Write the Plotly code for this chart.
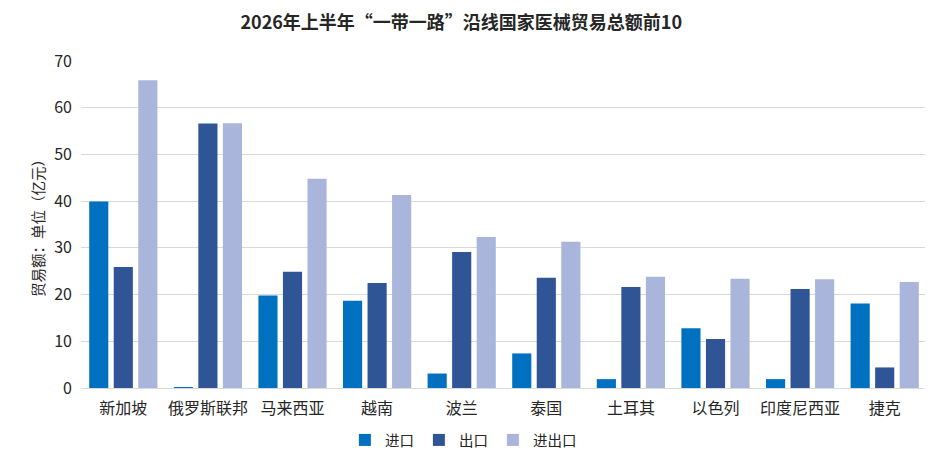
import plotly.graph_objects as go

countries = ["新加坡", "俄罗斯联邦", "马来西亚", "越南", "波兰", "泰国", "土耳其", "以色列", "印度尼西亚", "捷克"]
imports = [39.9, 0.1, 19.8, 18.7, 3.1, 7.4, 1.9, 12.8, 1.9, 18.1]
exports = [25.9, 56.6, 24.9, 22.5, 29.1, 23.6, 21.6, 10.5, 21.2, 4.4]
totals = [65.9, 56.7, 44.8, 41.3, 32.3, 31.3, 23.8, 23.4, 23.3, 22.7]
series_names = ["进口", "出口", "进出口"]
colors = ["#0070C0", "#2F5597", "#A9B5DA"]
y_ticks = [0, 10, 20, 30, 40, 50, 60, 70]

FONT = "Noto Sans CJK SC"
TXT = "#262626"

fig = go.Figure()
for name, vals, col in zip(series_names, [imports, exports, totals], colors):
    fig.add_trace(go.Bar(name=name, x=countries, y=vals, marker=dict(color=col, line=dict(width=0))))

fig.update_layout(
    width=925, height=464,
    barmode="group", bargap=0.13, bargroupgap=0.22,
    paper_bgcolor="white", plot_bgcolor="white",
    margin=dict(l=73, r=6, t=53, b=84, autoexpand=False),
    font=dict(family=FONT, size=15, color=TXT),
    title=dict(text="<b>2026年上半年“一带一路”沿线国家医械贸易总额前10</b>",
               x=0.49, xanchor="center", y=0.968, yanchor="middle",
               font=dict(family=FONT, size=18, color=TXT)),
    legend=dict(orientation="h", x=0.452, xanchor="center", y=-0.159, yanchor="middle",
                font=dict(family=FONT, size=14.5, color=TXT),
                itemsizing="constant", traceorder="normal"),
    xaxis=dict(showgrid=False, showline=True, linecolor="#D9D9D9", linewidth=1,
               ticks="", automargin=False, ticklabelstandoff=6,
               tickfont=dict(family=FONT, size=16, color=TXT)),
    yaxis=dict(range=[0, 70], tickvals=y_ticks, showgrid=True, gridcolor="#D9D9D9",
               gridwidth=1, zeroline=False, showline=False, ticks="", automargin=False,
               ticklabelstandoff=8,
               tickfont=dict(family=FONT, size=16, color=TXT),
               title=dict(text="贸易额：单位（亿元）", standoff=6,
                          font=dict(family=FONT, size=14.5, color=TXT))),
)

fig.write_html("out.html")
